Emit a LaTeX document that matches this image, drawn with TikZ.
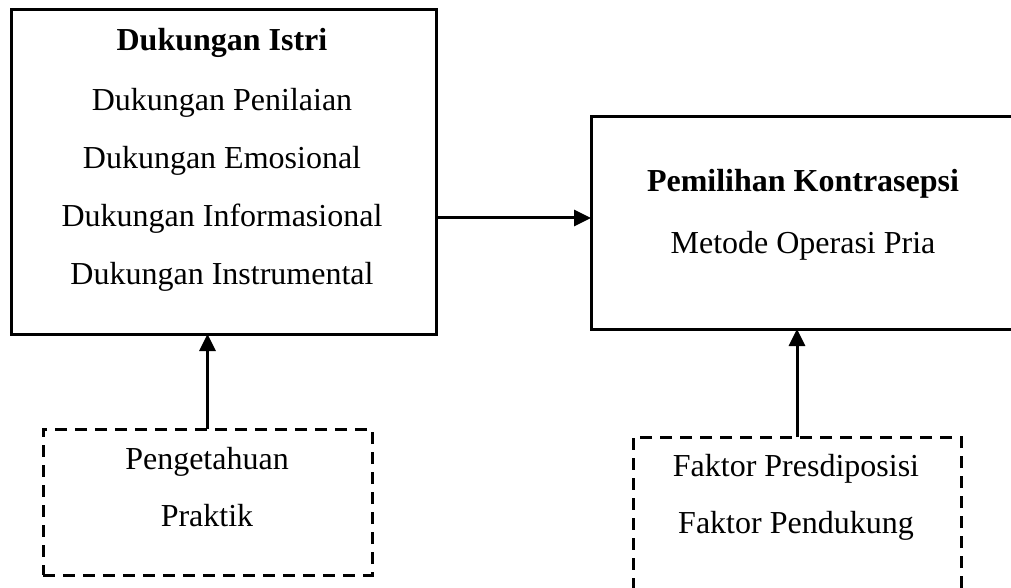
\documentclass[tikz,border=0pt]{standalone}
\usepackage{fontspec}
\setmainfont{Liberation Serif}
\usetikzlibrary{arrows.meta}

\begin{document}
\begin{tikzpicture}[x=0.5pt, y=-0.5pt, font=\fontsize{16}{19}\selectfont]
\tikzset{
 solidbox/.style={draw, line width=1.5pt, inner sep=0pt, outer sep=0pt},
 dashbox/.style={draw, line width=1.5pt, dash pattern=on 6pt off 4pt, inner sep=0pt, outer sep=0pt},
 txt/.style={anchor=base, inner sep=0pt},
 arr/.style={line width=1.5pt, -{Triangle[length=8.5pt, width=8pt]}}
}
\useasboundingbox (0,0) rectangle (1011,588);
\clip (0,0) rectangle (1011,588);
% boxes
\node[solidbox, minimum width=212.5pt, minimum height=162pt] (istri) at (223.5,172) {};
\node[solidbox, minimum width=224.5pt, minimum height=106pt] (kontra) at (815.5,223) {};
\node[dashbox, minimum width=164.5pt, minimum height=73pt] (tahu) at (207.5,502) {};
\node[dashbox, minimum width=164pt, minimum height=91.5pt] (faktor) at (797,528.5) {};
% texts
\node[txt] (istriT) at (222,51) {\textbf{Dukungan Istri}};
\foreach \t [count=\i] in {Penilaian, Emosional, Informasional, Instrumental} {
 \node[txt] (istri\i) at (222,{111+58*(\i-1)}) {Dukungan \t};
}
\node[txt] (kontraT) at (803,192) {\textbf{Pemilihan Kontrasepsi}};
\node[txt] (kontra1) at (803,254) {Metode Operasi Pria};
\node[txt] (tahu1) at (207,469) {Pengetahuan};
\node[txt] (tahu2) at (207,526) {Praktik};
\node[txt] (faktor1) at (796,476) {Faktor Presdiposisi};
\node[txt] (faktor2) at (796,533) {Faktor Pendukung};
% arrows
\coordinate (mid) at (0,218);
\draw[arr] (istri.east |- mid) -- (kontra.west |- mid);
\draw[arr] (tahu.north) -- (tahu.north |- istri.south);
\draw[arr] (faktor.north) -- (faktor.north |- kontra.south);
\end{tikzpicture}
\end{document}
